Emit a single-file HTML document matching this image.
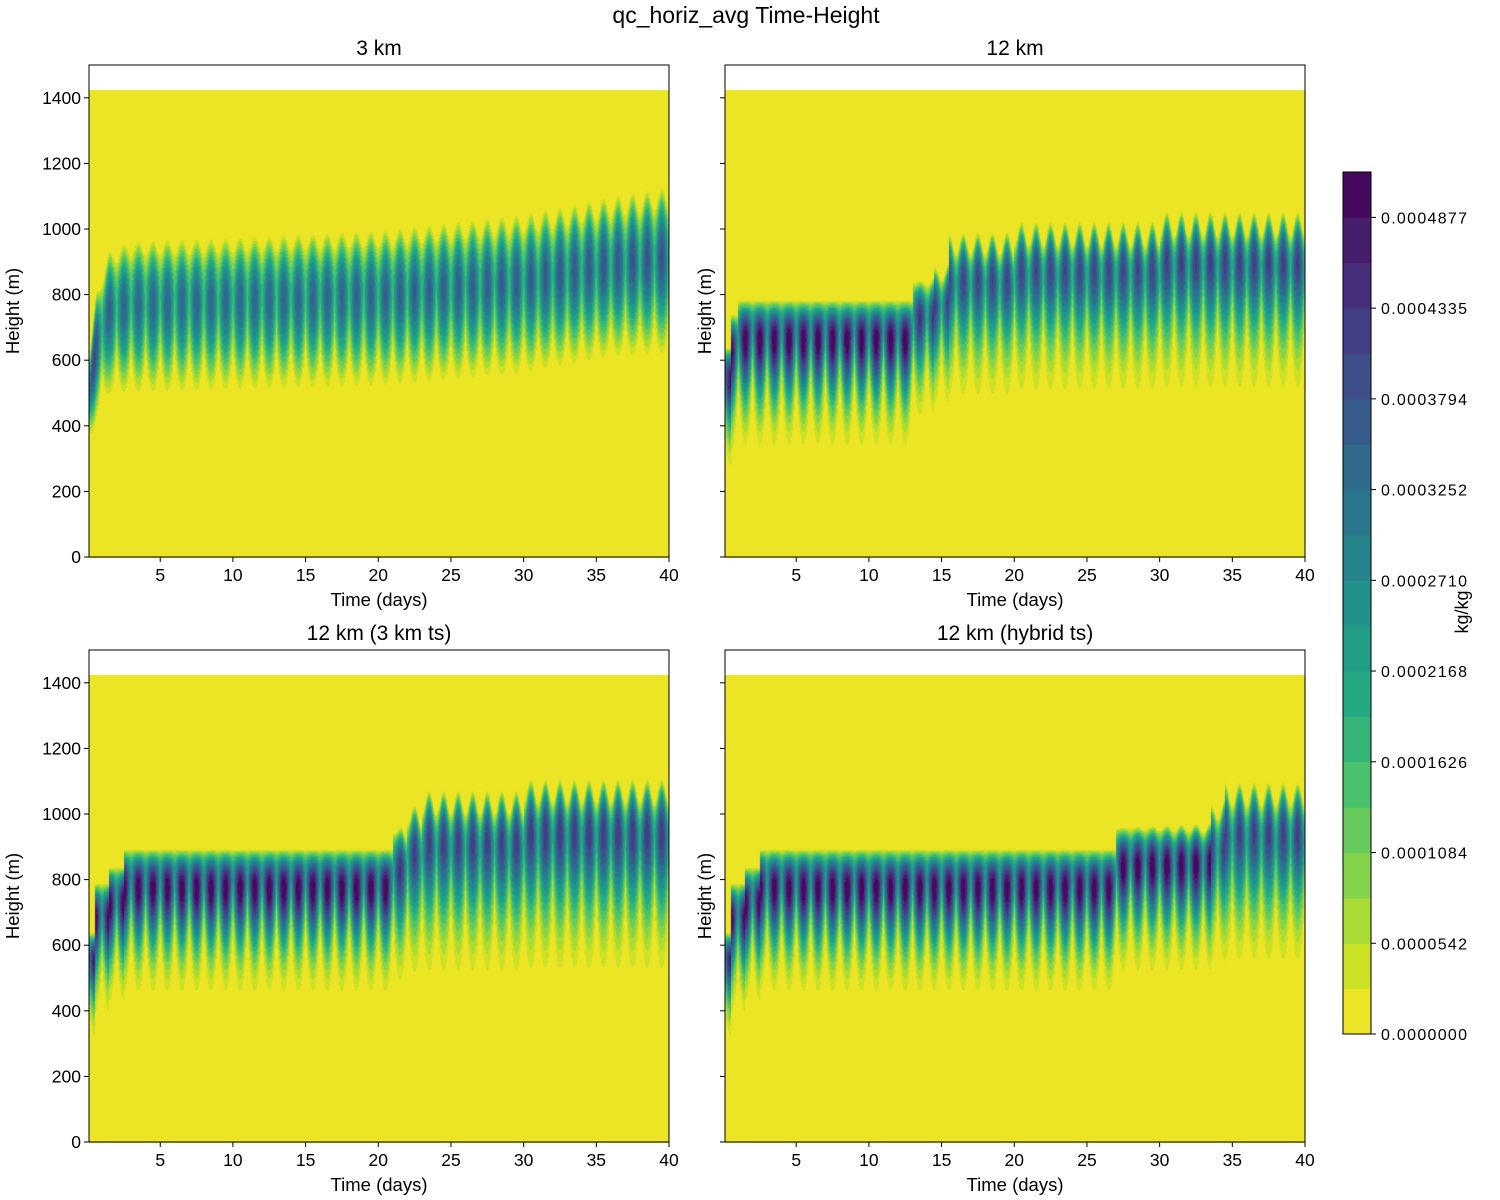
<!DOCTYPE html>
<html><head><meta charset="utf-8">
<style>
body{margin:0;background:#fff;width:1500px;height:1200px;overflow:hidden;position:relative;font-family:"Liberation Sans","DejaVu Sans",sans-serif;}
canvas{position:absolute;}
svg{position:absolute;left:0;top:0;}
</style></head><body>
<canvas id="c0" width="580" height="493" style="left:89px;top:65px"></canvas>
<canvas id="c1" width="580" height="493" style="left:725px;top:65px"></canvas>
<canvas id="c2" width="580" height="493" style="left:89px;top:650px"></canvas>
<canvas id="c3" width="580" height="493" style="left:725px;top:650px"></canvas>
<svg id="ov" width="1500" height="1200"></svg>
<script>
// ---- data ----
const levelStep = 0.0000271;
const nLevels = 19;
const cbTicks = ["0.0000000","0.0000542","0.0001084","0.0001626","0.0002168","0.0002710","0.0003252","0.0003794","0.0004335","0.0004877"];
const xTicks = [5,10,15,20,25,30,35,40];
const yTicks = [0,200,400,600,800,1000,1200,1400];
const panelTitles = ["3 km","12 km","12 km (3 km ts)","12 km (hybrid ts)"];
const domainTop = 1425;
// per panel: breakpoint times, cloud top, top wave amplitude, base (lowest dip), base (high), peak qc
const p0Times=[0,0.6,1.5,3,10,20,30,36,40];
const p0Top=[560,800,920,950,960,980,1025,1075,1105];
const p0Wave=[0,30,40,40,40,45,55,60,60];
const p0BaseLow=[290,400,470,470,480,490,530,580,590];
const p0BaseHigh=[400,500,580,590,600,610,640,680,690];
const p0Peak=[0.00046,0.00040,0.00036,0.00035,0.00035,0.00036,0.00037,0.00038,0.00039];
const p1Times=[0,0.5,1.0,13,14.5,15.5,20,30,40];
const p1Top=[640,740,785,840,870,960,990,1020,1040];
const p1Wave=[0,0,0,0,30,60,70,75,70];
const p1BaseLow=[170,200,210,300,330,330,340,340,350];
const p1BaseHigh=[350,400,430,500,530,560,580,600,610];
const p1Peak=[0.00050,0.00052,0.00052,0.00044,0.00042,0.00041,0.00041,0.00042,0.00043];
const p2Times=[0,0.5,1.5,2.5,21,22,23,30,40];
const p2Top=[640,790,840,895,950,1000,1040,1075,1110];
const p2Wave=[0,0,0,0,0,50,70,70,70];
const p2BaseLow=[230,280,310,330,340,350,340,340,380];
const p2BaseHigh=[380,440,500,540,560,570,590,600,620];
const p2Peak=[0.00048,0.00052,0.00052,0.00052,0.00044,0.00042,0.00042,0.00043,0.00044];
const p3Times=[0,0.5,1.5,2.5,27,33.5,34.5,40];
const p3Top=[640,790,840,895,960,1015,1065,1100];
const p3Wave=[0,0,0,0,0,30,70,70];
const p3BaseLow=[230,280,310,330,390,390,380,380];
const p3BaseHigh=[380,440,500,540,600,610,610,620];
const p3Peak=[0.00048,0.00052,0.00052,0.00052,0.00052,0.00043,0.00042,0.00042];
const panels=[
 {t:p0Times,top:p0Top,wave:p0Wave,bl:p0BaseLow,bh:p0BaseHigh,pk:p0Peak,step:false,peakPos:0.6},
 {t:p1Times,top:p1Top,wave:p1Wave,bl:p1BaseLow,bh:p1BaseHigh,pk:p1Peak,step:true,peakPos:0.78},
 {t:p2Times,top:p2Top,wave:p2Wave,bl:p2BaseLow,bh:p2BaseHigh,pk:p2Peak,step:true,peakPos:0.78},
 {t:p3Times,top:p3Top,wave:p3Wave,bl:p3BaseLow,bh:p3BaseHigh,pk:p3Peak,step:true,peakPos:0.78}
];
// ---- geometry ----
const axW=580, axH=492, xMin=0.1, xMax=40, yMin=0, yMax=1500;
const axPos=[[89,65],[725,65],[89,650],[725,650]];
const xs=t=>(t-xMin)/(xMax-xMin)*axW;
const ys=h=>axH-(h-yMin)/(yMax-yMin)*axH;
// ---- colormap ----
const vir=["#440154","#482475","#414487","#355f8d","#2a788e","#21918c","#22a884","#44bf70","#7ad151","#bddf26","#fde725"];
function hex(h){return [parseInt(h.substr(1,2),16),parseInt(h.substr(3,2),16),parseInt(h.substr(5,2),16)];}
function viridis(v){v=Math.max(0,Math.min(1,v));const f=v*10,i=Math.min(9,Math.floor(f)),r=f-i;const a=hex(vir[i]),b=hex(vir[i+1]);return a.map((c,k)=>Math.round(c+(b[k]-c)*r));}
const levelColors=[];for(let k=0;k<nLevels;k++)levelColors.push(viridis(1-(k+0.5)/nLevels));
function interp(arr,times,t,step){
 if(t<=times[0])return arr[0];
 for(let i=1;i<times.length;i++){if(t<=times[i]){if(step)return arr[i-1];const r=(t-times[i-1])/(times[i]-times[i-1]);return arr[i-1]+(arr[i]-arr[i-1])*r;}}
 return arr[arr.length-1];
}
panels.forEach((P,pi)=>{
 const cv=document.getElementById('c'+pi),ctx=cv.getContext('2d');
 const img=ctx.createImageData(axW,axH+1);const d=img.data;
 const k=Math.log(0.5)/Math.log(P.peakPos);
 for(let px=0;px<axW;px++){
  const t=xMin+(px+0.5)/axW*(xMax-xMin);
  const ph=t-Math.floor(t);
  const dn=0.5-0.5*Math.cos(2*Math.PI*ph);
  const dd=Math.pow(dn,0.35);
  const top=interp(P.top,P.t,t,P.step)+interp(P.wave,P.t,t,false)*(dn-0.5);
  const bl=interp(P.bl,P.t,t,P.step),bh=interp(P.bh,P.t,t,P.step);
  const base=bh-(bh-bl)*dd;
  const pk=interp(P.pk,P.t,t,P.step)*(0.45+0.55*Math.pow(dn,0.6));
  for(let py=0;py<=axH;py++){
   const h=yMax-(py+0.5)/axH*(yMax-yMin);
   let o=(py*axW+px)*4;
   if(h>domainTop){d[o]=255;d[o+1]=255;d[o+2]=255;d[o+3]=255;continue;}
   let q=0;
   if(h>base&&h<top){const s=(h-base)/(top-base);q=pk*Math.sin(Math.PI*Math.pow(s,k));}
   let lv=Math.min(nLevels-1,Math.max(0,Math.floor(q/levelStep)));
   const c=levelColors[lv];d[o]=c[0];d[o+1]=c[1];d[o+2]=c[2];d[o+3]=255;
  }
 }
 ctx.putImageData(img,0,0);
});
// ---- axes overlay ----
const NS="http://www.w3.org/2000/svg";const ov=document.getElementById('ov');
function el(tag,attrs,txt){const e=document.createElementNS(NS,tag);for(const a in attrs)e.setAttribute(a,attrs[a]);if(txt!==undefined)e.textContent=txt;ov.appendChild(e);return e;}
const title=el('text',{x:746,y:23,'font-size':23,'text-anchor':'middle',fill:'#000'},'qc_horiz_avg Time-Height');


axPos.forEach(([ax,ay],pi)=>{
 const fr=el('rect',{x:ax,y:ay,width:axW,height:axH,fill:'none',stroke:'#000','stroke-width':1});
 
 
 const tt=el('text',{x:ax+axW/2,y:ay-10,'font-size':21,'text-anchor':'middle'},panelTitles[pi]);
 
 
 xTicks.forEach(v=>{
  const x=ax+xs(v);
  const tk=el('line',{x1:x,x2:x,y1:ay+axH,y2:ay+axH+5,stroke:'#000'});
  
  
  const lb=el('text',{x:x,y:ay+axH+24,'font-size':17.5,'text-anchor':'middle'},String(v));
  
  
 });
 yTicks.forEach(v=>{
  const y=ay+ys(v);
  const tk=el('line',{x1:ax-5,x2:ax,y1:y,y2:y,stroke:'#000'});
  
  
  if(pi%2===0){
   const lb=el('text',{x:ax-8,y:y+6,'font-size':17.5,'text-anchor':'end'},String(v));
   
   
  }
 });
 const xl=el('text',{x:ax+axW/2,y:ay+axH+49,'font-size':18.5,'text-anchor':'middle'},'Time (days)');
 
 
 const yx=pi%2===0?ax-70:ax-14;
 const yl=el('text',{x:yx,y:ay+axH/2,'font-size':18.5,'text-anchor':'middle',transform:`rotate(-90 ${yx} ${ay+axH/2})`},'Height (m)');
 
 
});
// colorbar
const cbX=1343,cbW=28,cbTop=172,cbBot=1034,bandH=(cbBot-cbTop)/nLevels;
for(let kk=0;kk<nLevels;kk++){
 const c=levelColors[kk];
 const r=el('rect',{x:cbX,y:cbBot-(kk+1)*bandH,width:cbW,height:bandH+0.5,fill:`rgb(${c[0]},${c[1]},${c[2]})`});
 
 
}
const cbf=el('rect',{x:cbX,y:cbTop,width:cbW,height:cbBot-cbTop,fill:'none',stroke:'#000'});


cbTicks.forEach((s,i)=>{
 const y=cbBot-i*2*bandH;
 const tk=el('line',{x1:cbX+cbW,x2:cbX+cbW+5,y1:y,y2:y,stroke:'#000'});
 
 
 const lb=el('text',{x:cbX+cbW+10,y:y+6,'font-size':16,'textLength':86},s);
 
 
});
const cbl=el('text',{x:1468,y:612,'font-size':18,'text-anchor':'middle',transform:'rotate(-90 1468 612)'},'kg/kg');


</script>
</body></html>
